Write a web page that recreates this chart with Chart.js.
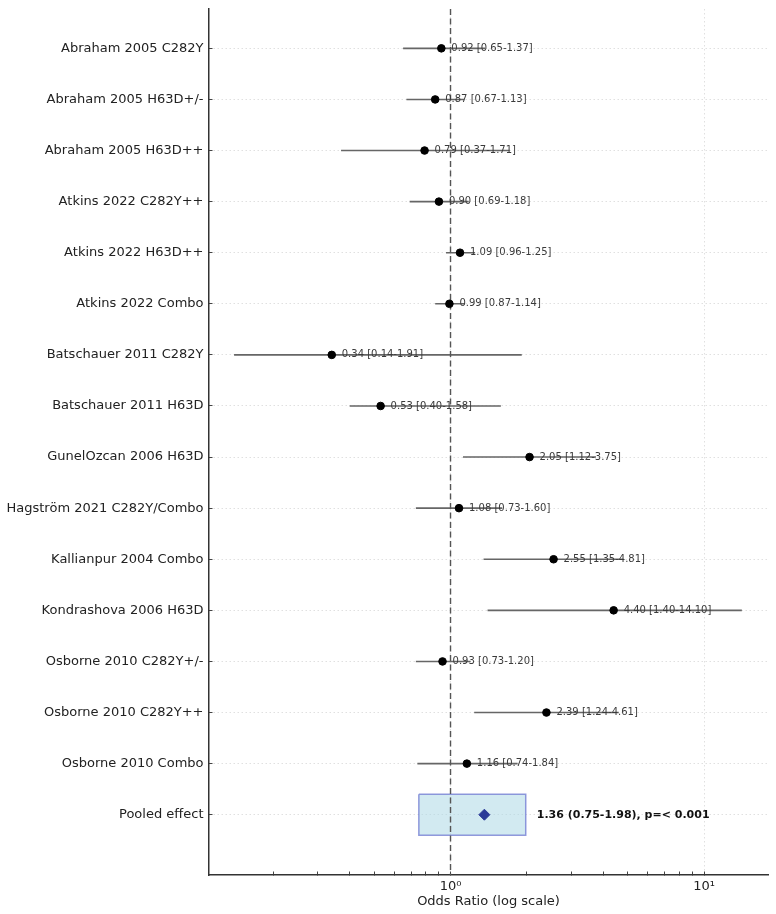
<!DOCTYPE html>
<html>
<head>
<meta charset="utf-8">
<script src="https://cdn.jsdelivr.net/npm/chart.js@4.4.1/dist/chart.umd.min.js"></script>
<style>
  html, body { margin: 0; padding: 0; background: #fff; }
</style>
</head>
<body>
<canvas id="forest-chart" width="776" height="914"></canvas>
<script>
// study rows, top to bottom
const studies = [
  'Abraham 2005 C282Y',
  'Abraham 2005 H63D+/-',
  'Abraham 2005 H63D++',
  'Atkins 2022 C282Y++',
  'Atkins 2022 H63D++',
  'Atkins 2022 Combo',
  'Batschauer 2011 C282Y',
  'Batschauer 2011 H63D',
  'GunelOzcan 2006 H63D',
  'Hagström 2021 C282Y/Combo',
  'Kallianpur 2004 Combo',
  'Kondrashova 2006 H63D',
  'Osborne 2010 C282Y+/-',
  'Osborne 2010 C282Y++',
  'Osborne 2010 Combo'
];
const oddsRatio = [0.92, 0.87, 0.79, 0.90, 1.09, 0.99, 0.34, 0.53, 2.05, 1.08, 2.55, 4.40, 0.93, 2.39, 1.16];
const ciLower   = [0.65, 0.67, 0.37, 0.69, 0.96, 0.87, 0.14, 0.40, 1.12, 0.73, 1.35, 1.40, 0.73, 1.24, 0.74];
const ciUpper   = [1.37, 1.13, 1.71, 1.18, 1.25, 1.14, 1.91, 1.58, 3.75, 1.60, 4.81, 14.10, 1.20, 4.61, 1.84];

const pooledLabel = 'Pooled effect';
const pooledOR = 1.36;
const pooledLower = 0.75;
const pooledUpper = 1.98;
const pooledP = '< 0.001';

// x axis ticks (log scale)
const majorTicks = [1, 10];
const majorTickLabels = ['10\u2070', '10\u00b9'];
const minorTicks = [0.2, 0.3, 0.4, 0.5, 0.6, 0.7, 0.8, 0.9, 2, 3, 4, 5, 6, 7, 8, 9];

const rows = studies.concat([pooledLabel]);
const pooledRow = studies.length;
const yMin = -0.77, yMax = 16.18;
const boxHalf = 0.4;

Chart.defaults.font.family = '"DejaVu Sans", sans-serif';
Chart.defaults.color = '#222';

// CI segments, separated by gaps
const ciSegments = [];
oddsRatio.forEach((v, i) => {
  ciSegments.push({x: ciLower[i], y: i}, {x: ciUpper[i], y: i}, {x: null, y: null});
});

const annotate = {
  id: 'annotate',
  afterDatasetsDraw(chart) {
    const {ctx, scales: {x, y}} = chart;
    ctx.save();
    ctx.textBaseline = 'middle';
    ctx.textAlign = 'left';
    ctx.font = '10px "DejaVu Sans"';
    ctx.fillStyle = '#3a3a3a';
    oddsRatio.forEach((v, i) => {
      const txt = v.toFixed(2) + ' [' + ciLower[i].toFixed(2) + '-' + ciUpper[i].toFixed(2) + ']';
      ctx.fillText(txt, x.getPixelForValue(v) + 10, y.getPixelForValue(i));
    });
    ctx.font = 'bold 11px "DejaVu Sans"';
    ctx.fillStyle = '#111';
    const ptxt = pooledOR.toFixed(2) + ' (' + pooledLower.toFixed(2) + '-' + pooledUpper.toFixed(2) + '), p=' + pooledP;
    ctx.fillText(ptxt, x.getPixelForValue(pooledUpper) + 11, y.getPixelForValue(pooledRow));
    ctx.restore();
  }
};

new Chart(document.getElementById('forest-chart').getContext('2d'), {
  type: 'scatter',
  data: {
    datasets: [{
      // pooled CI box
      data: [
        {x: pooledLower, y: pooledRow - boxHalf},
        {x: pooledUpper, y: pooledRow - boxHalf},
        {x: pooledUpper, y: pooledRow + boxHalf},
        {x: pooledLower, y: pooledRow + boxHalf},
        {x: pooledLower, y: pooledRow - boxHalf}
      ],
      showLine: true,
      fill: 'shape',
      backgroundColor: 'rgba(173, 216, 230, 0.55)',
      borderColor: 'rgba(110, 120, 210, 0.75)',
      borderWidth: 1.5,
      pointRadius: 0,
      order: 4
    }, {
      // CI lines
      data: ciSegments,
      showLine: true,
      spanGaps: false,
      borderColor: '#666',
      borderWidth: 1.6,
      pointRadius: 0,
      order: 3
    }, {
      // null line OR = 1
      data: [{x: 1, y: yMin}, {x: 1, y: yMax}],
      showLine: true,
      borderColor: '#555',
      borderWidth: 1.4,
      borderDash: [6, 3.5],
      pointRadius: 0,
      order: 2
    }, {
      data: oddsRatio.map((v, i) => ({x: v, y: i})),
      pointRadius: 3.8,
      pointBackgroundColor: '#000',
      pointBorderColor: '#000',
      order: 1
    }, {
      data: [{x: pooledOR, y: pooledRow}],
      pointStyle: 'rectRot',
      pointRadius: 5.5,
      pointBackgroundColor: '#2b3a98',
      pointBorderColor: '#2b3a98',
      order: 0
    }]
  },
  options: {
    responsive: false,
    animation: false,
    layout: { padding: {top: 9, right: 8, bottom: 0, left: 0} },
    plugins: { legend: {display: false}, tooltip: {enabled: false} },
    scales: {
      x: {
        type: 'logarithmic',
        min: 0.1115,
        max: 17.88,
        bounds: 'data',
        afterBuildTicks: s => {
          s.ticks = minorTicks.concat(majorTicks).sort((a, b) => a - b).map(v => ({value: v}));
        },
        afterFit: s => {
          s.height = 39;
          s.paddingLeft = 0; s.paddingRight = 0;
        },
        ticks: {
          autoSkip: false,
          maxRotation: 0,
          padding: 7,
          font: {size: 13},
          color: '#222',
          callback: v => {
            const k = majorTicks.indexOf(v);
            return k >= 0 ? majorTickLabels[k] : '';
          }
        },
        grid: {
          color: c => (c.tick && majorTicks.includes(c.tick.value)) ? 'rgba(0,0,0,0.12)' : 'rgba(0,0,0,0)',
          tickColor: '#444',
          tickLength: -3.5
        },
        border: { color: '#333', width: 1.5, dash: [1.5, 2.5] },
        title: {
          display: true,
          text: 'Odds Ratio (log scale)',
          font: {size: 13},
          color: '#222',
          padding: {top: 0, bottom: 5}
        }
      },
      y: {
        type: 'linear',
        reverse: true,
        min: yMin,
        max: yMax,
        bounds: 'data',
        afterBuildTicks: s => { s.ticks = rows.map((_, i) => ({value: i})); },
        afterFit: s => {
          s.width = 209;
          s.paddingTop = 0; s.paddingBottom = 0;
        },
        ticks: {
          autoSkip: false,
          padding: 9,
          font: {size: 13},
          color: '#222',
          callback: (v, i) => rows[i]
        },
        grid: {
          color: 'rgba(0,0,0,0.12)',
          tickColor: '#444',
          tickLength: -3.5
        },
        border: { color: '#333', width: 1.5, dash: [1.5, 2.5] }
      }
    }
  },
  plugins: [annotate]
});
</script>
</body>
</html>
